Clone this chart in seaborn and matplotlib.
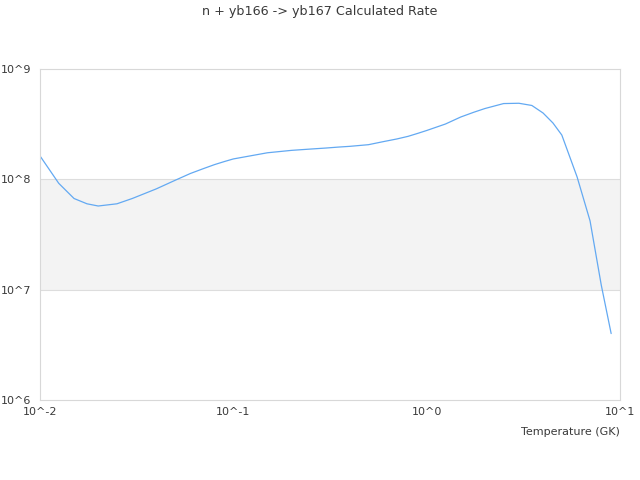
import numpy as np
import pandas as pd
import matplotlib
matplotlib.use("Agg")
import matplotlib.pyplot as plt
import seaborn as sns

# rate, temperature in GK
temperature = [0.01, 0.0125, 0.015, 0.0175, 0.02, 0.025, 0.03, 0.04, 0.05, 0.06,
               0.07, 0.08, 0.09, 0.1, 0.15, 0.2, 0.25, 0.3, 0.35, 0.4,
               0.5, 0.6, 0.7, 0.8, 0.9, 1.0, 1.25, 1.5, 1.75, 2.0,
               2.5, 3.0, 3.5, 4.0, 4.5, 5.0, 6.0, 7.0, 8.0, 9.0]
rate = [1.63e8, 9.2e7, 6.7e7, 6.0e7, 5.73e7, 6.0e7, 6.7e7, 8.2e7, 9.8e7, 1.13e8,
        1.25e8, 1.36e8, 1.45e8, 1.53e8, 1.74e8, 1.83e8, 1.88e8, 1.92e8, 1.96e8, 1.99e8,
        2.06e8, 2.2e8, 2.32e8, 2.45e8, 2.61e8, 2.77e8, 3.17e8, 3.67e8, 4.05e8, 4.38e8,
        4.86e8, 4.89e8, 4.67e8, 3.99e8, 3.24e8, 2.52e8, 1.05e8, 4.2e7, 1.1e7, 4.0e6]

x_ticks = [0.01, 0.1, 1, 10]
x_labels = ["10^-2", "10^-1", "10^0", "10^1"]
y_ticks = [1e6, 1e7, 1e8, 1e9]
y_labels = ["10^6", "10^7", "10^8", "10^9"]

df = pd.DataFrame({"T": temperature, "rate": rate})

sns.set_style("white")
plt.rcParams["font.family"] = ["DejaVu Sans"]

fig = plt.figure(figsize=(6.4, 4.8), dpi=100)
ax = fig.add_axes([0.0625, 0.1667, 0.90625, 0.68958])

# alternating band like the original chart
ax.axhspan(1e7, 1e8, color="#f3f3f3", zorder=0, lw=0)

sns.lineplot(data=df, x="T", y="rate", ax=ax, color="#63a9f2", linewidth=0.9)

ax.set_xscale("log")
ax.set_yscale("log")
ax.set_xlim(0.01, 10)
ax.set_ylim(1e6, 1e9)

ax.set_xticks(x_ticks)
ax.set_xticklabels(x_labels)
ax.set_yticks(y_ticks)
ax.set_yticklabels(y_labels)
ax.minorticks_off()
ax.tick_params(axis="both", length=0, labelsize=8, labelcolor="#3a3a3a")
ax.tick_params(axis="x", pad=5)
ax.tick_params(axis="y", pad=6.5)

for y in y_ticks[1:-1]:
    ax.axhline(y, color="#dddddd", lw=0.8, zorder=1)
for s in ax.spines.values():
    s.set_color("#d8d8d8")
    s.set_linewidth(0.8)

ax.set_xlabel("")
ax.set_ylabel("")
fig.text(0.96875, 0.10, "Temperature (GK)", ha="right", va="center",
         fontsize=8, color="#3a3a3a")
fig.text(0.5, 0.975, "n + yb166 -> yb167 Calculated Rate", ha="center", va="center",
         fontsize=9.2, color="#3a3a3a")

fig.savefig("out.png", dpi=100)
